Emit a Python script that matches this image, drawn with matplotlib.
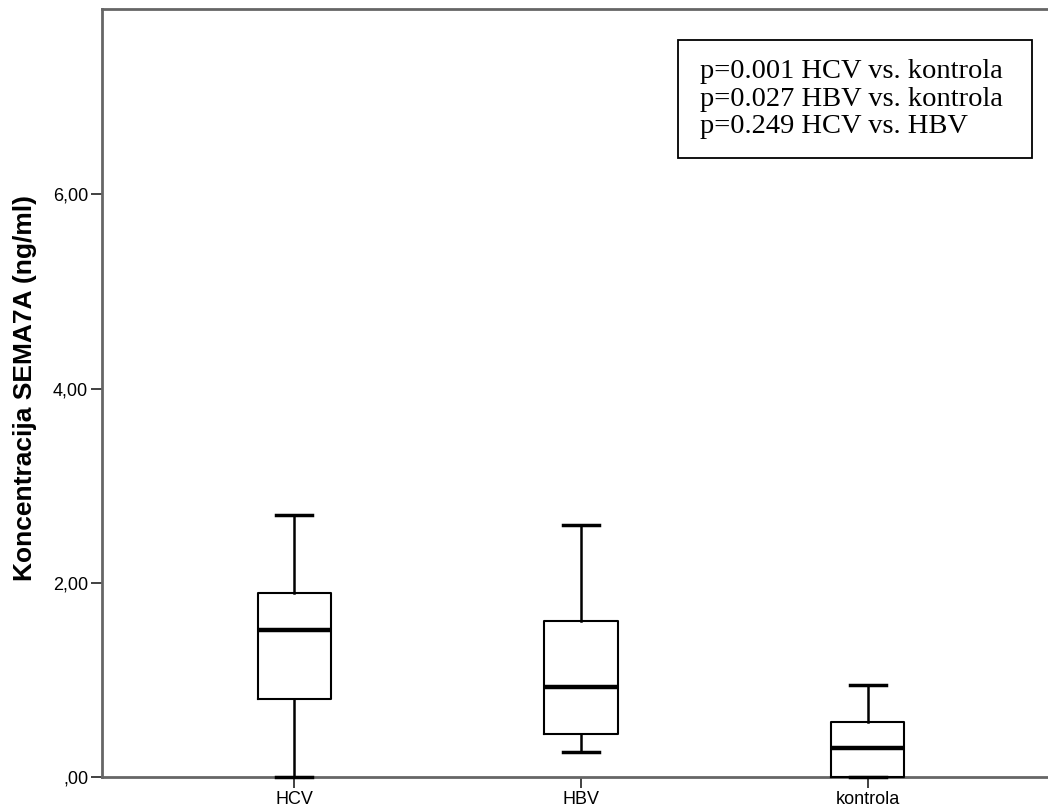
import numpy as np
import matplotlib.pyplot as plt
from matplotlib.patches import Rectangle

groups = ['HCV', 'HBV', 'kontrola']
whislo = [0.0, 0.26, 0.0]
q1 = [0.80, 0.44, 0.0]
med = [1.51, 0.93, 0.30]
q3 = [1.90, 1.61, 0.57]
whishi = [2.70, 2.60, 0.95]
yticks = [0, 2, 4, 6]
ylabels = [',00', '2,00', '4,00', '6,00']
ptext = 'p=0.001 HCV vs. kontrola\np=0.027 HBV vs. kontrola\np=0.249 HCV vs. HBV'

plt.rcParams['font.family'] = ['Liberation Sans', 'DejaVu Sans']

fig = plt.figure(figsize=(10.48, 8.09), dpi=100)
ax = fig.add_axes([102/1048, 32/809, 958/1048, 768/809])

stats = []
for i in range(len(groups)):
    stats.append({'label': groups[i], 'whislo': whislo[i], 'q1': q1[i], 'med': med[i],
                  'q3': q3[i], 'whishi': whishi[i], 'fliers': []})

ax.bxp(stats, positions=[1, 2, 3], widths=0.255, capwidths=0.125, showfliers=False,
       boxprops=dict(color='black', linewidth=1.5, zorder=3, clip_on=False),
       medianprops=dict(color='black', linewidth=3.2, zorder=3),
       whiskerprops=dict(color='black', linewidth=1.8, zorder=3),
       capprops=dict(color='black', linewidth=2.5, zorder=3, clip_on=False))

ax.set_xlim(0.33, 3.67)
ax.set_ylim(0, 7.91)
ax.set_yticks(yticks)
ax.set_yticklabels(ylabels)
ax.set_xticks([1, 2, 3])
ax.set_xticklabels(groups)
ax.tick_params(axis='both', length=8, width=1.3, color='#333333', labelsize=13, pad=2)

for s in ax.spines.values():
    s.set_color('#666666')
    s.set_linewidth(2)

ax.set_ylabel('Koncentracija SEMA7A (ng/ml)', fontsize=19, fontweight='bold')
ax.yaxis.set_label_coords(-0.0678, 0.506)

ax.add_patch(Rectangle((0.601, 0.806), 0.3695, 0.1536, transform=ax.transAxes,
                       facecolor='white', edgecolor='black', linewidth=1.3, zorder=4))
ax.text(0.624, 0.8828, ptext, transform=ax.transAxes, ha='left', va='center',
        family=['Liberation Serif', 'DejaVu Serif'], fontsize=20.5, linespacing=1.12, zorder=5)

fig.savefig('out.png', dpi=100)
